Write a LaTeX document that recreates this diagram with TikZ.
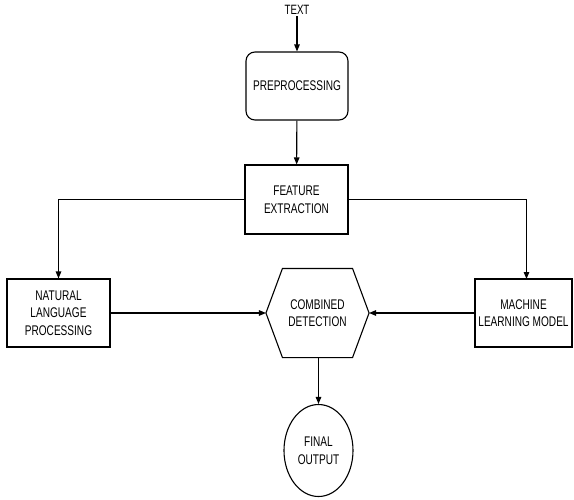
\documentclass[tikz,border=0pt]{standalone}
\usepackage{fontspec}
\setmainfont{Liberation Sans}[FakeStretch=0.72]
\usetikzlibrary{arrows.meta,shapes.geometric}

\begin{document}
\begin{tikzpicture}[x=1pt,y=1pt,yscale=-1,xscale=1,
  line width=1.1pt,
  blk/.style={draw, inner sep=2pt, align=center, font=\fontsize{14}{17.5}\selectfont},
  arr/.style={-{Triangle[length=7pt,width=5.5pt]}}]
\useasboundingbox (0,0) rectangle (574,499);

%Text label
\node [font=\fontsize{13.5}{15}\selectfont, inner sep=1pt] (txt) at (297,10) {TEXT};
%Shape: Rounded Rect
\node [blk, rounded corners=9pt, minimum width=102, minimum height=68] (prep) at (297,86) {PREPROCESSING};
%Shape: Rectangle
\node [blk, minimum width=103, minimum height=69] (feat) at (296.5,199.5) {FEATURE\\EXTRACTION};
%Shape: Rectangle
\node [blk, minimum width=103, minimum height=68] (nlp) at (58.5,313) {NATURAL\\LANGUAGE\\PROCESSING};
%Shape: Rectangle
\node [blk, minimum width=97, minimum height=68] (ml) at (523.5,313) {MACHINE\\LEARNING MODEL};
%Shape: Hexagon
\node [blk, draw=none, minimum width=102, minimum height=88] (comb) at (317.5,313) {COMBINED\\DETECTION};
\draw (comb.west) -- ([xshift=16.5pt]comb.north west) -- ([xshift=-16.5pt]comb.north east) -- (comb.east)
  -- ([xshift=-16.5pt]comb.south east) -- ([xshift=16.5pt]comb.south west) -- cycle;
%Shape: Ellipse
\node [blk, ellipse, inner sep=0pt, minimum width=69, minimum height=92] (out) at (318.5,450.5) {FINAL\\OUTPUT};

\coordinate (mltop) at (526.5,279);

%Straight Lines
\draw [arr] (txt) -- (prep);
\draw [arr] (prep) -- (feat);
\draw [arr] (feat.west) -| (nlp.north);
\draw [arr] (feat.east) -| (mltop);
\draw [arr] (nlp.east) -- (comb.west);
\draw [arr] (ml.west) -- (comb.east);
\draw [arr] (comb.south -| out.north) -- (out.north);

\end{tikzpicture}
\end{document}
